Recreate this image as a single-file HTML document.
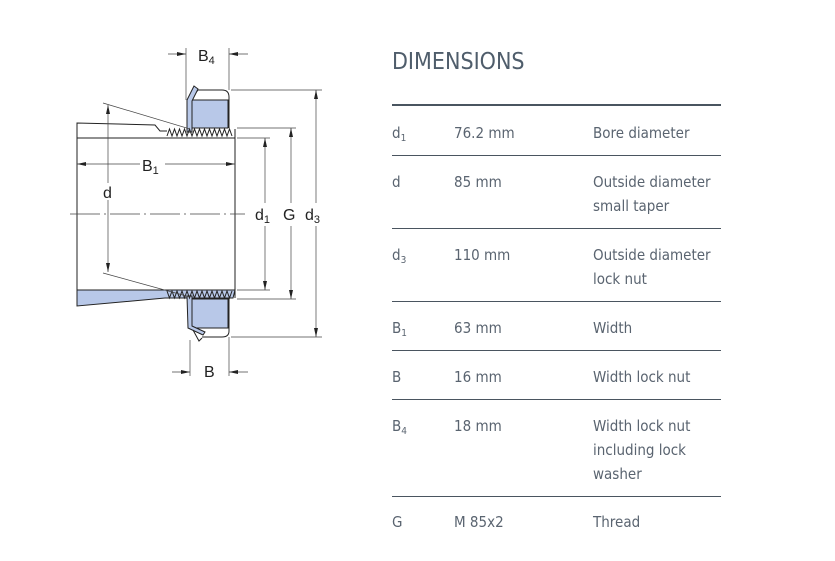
<!DOCTYPE html>
<html><head><meta charset="utf-8"><style>
body{margin:0;background:#fff;width:835px;height:561px;overflow:hidden;position:relative;font-family:"Liberation Sans",sans-serif}
.t{position:absolute;color:#5a6470;font-size:15px;line-height:24px;font-family:"DejaVu Sans Condensed","Liberation Sans",sans-serif;font-weight:300}
.h{position:absolute;left:392px;top:49px;font-size:23px;color:#4f5d6b;font-family:"DejaVu Sans Condensed","Liberation Sans",sans-serif;letter-spacing:0px}
.ln{position:absolute;left:392px;width:329px;height:1px;background:#4a5560}
sub{font-size:10px;vertical-align:-3px;line-height:0}
</style></head><body>
<svg width="835" height="561" style="position:absolute;left:0;top:0" font-family="Liberation Sans, sans-serif">
<g stroke="#222" stroke-width="1" fill="none">
<path d="M77,305 L77,123 L155,125 L160,131 L167,131" />
<line x1="77" y1="138" x2="235" y2="138"/>
<line x1="235" y1="129" x2="235" y2="298"/>
<path d="M77,290 L235,290 L233,298 L165,298 L77,306 Z" fill="#b8c8e8"/>
<path d="M192,100 L228,100 L228,128 L192,128 Z" fill="#b8c8e8"/>
<path d="M192,98 L198,90 L222,90 Q229,90 229,97 L229,128"/>
<path d="M187,100 L194,86 L198,89 L192,101 L192,132 L187,132 Z" fill="#b8c8e8"/>
<path d="M192,299 L228,299 L228,328 L192,328 Z" fill="#b8c8e8"/>
<path d="M229,298 L229,331 Q229,337 222,337 L202,337"/>
<path d="M187,296 L192,296 L192,326 L205,332 L203,335 L188,328 Z" fill="#b8c8e8"/>
<path d="M193,330 L199,341 L202,338"/>
<polyline points="167,136 169.5,129 172,136 174.5,129 177,136 179.5,129 182,136 184.5,129 187,136 189.5,129 192,136 194.5,129 197,136 199.5,129 202,136 204.5,129 207,136 209.5,129 212,136 214.5,129 217,136 219.5,129 222,136 224.5,129 227,136 229.5,129 232,136"/>
<polyline points="167,291 169.5,298 172,291 174.5,298 177,291 179.5,298 182,291 184.5,298 187,291 189.5,298 192,291 194.5,298 197,291 199.5,298 202,291 204.5,298 207,291 209.5,298 212,291 214.5,298 217,291 219.5,298 222,291 224.5,298 227,291 229.5,298 232,291"/>
</g>
<g stroke="#444" stroke-width="0.7" fill="none">
<line x1="103" y1="103" x2="190" y2="129"/>
<line x1="103" y1="273" x2="190" y2="297"/>
<line x1="70" y1="214" x2="245" y2="214" stroke-dasharray="30,4,2,4"/>
<line x1="108" y1="105" x2="108" y2="183"/><line x1="108" y1="200" x2="108" y2="272"/>
<line x1="77" y1="164" x2="140" y2="164"/><line x1="165" y1="164" x2="235" y2="164"/>
<line x1="186" y1="48" x2="186" y2="100"/><line x1="229" y1="48" x2="229" y2="90"/>
<line x1="168" y1="54" x2="186" y2="54"/><line x1="229" y1="54" x2="248" y2="54"/>
<line x1="190" y1="340" x2="190" y2="376"/><line x1="229" y1="337" x2="229" y2="376"/>
<line x1="172" y1="372" x2="190" y2="372"/><line x1="229" y1="372" x2="248" y2="372"/>
<line x1="231" y1="90" x2="322" y2="90"/><line x1="231" y1="337" x2="322" y2="337"/>
<line x1="237" y1="128" x2="296" y2="128"/><line x1="237" y1="299" x2="296" y2="299"/>
<line x1="237" y1="138" x2="270" y2="138"/><line x1="237" y1="290" x2="270" y2="290"/>
<line x1="316" y1="90" x2="316" y2="203"/><line x1="316" y1="226" x2="316" y2="337"/>
<line x1="291" y1="128" x2="291" y2="203"/><line x1="291" y1="226" x2="291" y2="299"/>
<line x1="265" y1="138" x2="265" y2="203"/><line x1="265" y1="226" x2="265" y2="290"/>
</g>
<g fill="#222">
<path d="M108,105 l-2,9 h4z"/><path d="M108,272 l-2,-9 h4z"/>
<path d="M77,164 l9,-2 v4z"/><path d="M235,164 l-9,-2 v4z"/>
<path d="M186,54 l-9,-2 v4z"/><path d="M229,54 l9,-2 v4z"/>
<path d="M190,372 l-9,-2 v4z"/><path d="M229,372 l9,-2 v4z"/>
<path d="M316,90 l-2,9 h4z"/><path d="M316,337 l-2,-9 h4z"/>
<path d="M291,128 l-2,9 h4z"/><path d="M291,299 l-2,-9 h4z"/>
<path d="M265,138 l-2,9 h4z"/><path d="M265,290 l-2,-9 h4z"/>
</g>
<g font-size="16" fill="#222">
<text x="198" y="61">B<tspan font-size="11" dy="3">4</tspan></text>
<text x="142" y="171">B<tspan font-size="11" dy="3">1</tspan></text>
<text x="103" y="198">d</text>
<text x="255" y="220">d<tspan font-size="11" dy="3">1</tspan></text>
<text x="283" y="220">G</text>
<text x="305" y="220">d<tspan font-size="11" dy="3">3</tspan></text>
<text x="204" y="377">B</text>
</g>
</svg>
<div class="h">DIMENSIONS</div>
<div class="ln" style="top:104px;height:2px"></div>
<div class="t" style="left:392px;top:121px">d<sub>1</sub></div><div class="t" style="left:454px;top:121px">76.2 mm</div><div class="t" style="left:593px;top:121px">Bore diameter</div>
<div class="ln" style="top:155px"></div>
<div class="t" style="left:392px;top:170px">d</div><div class="t" style="left:454px;top:170px">85 mm</div><div class="t" style="left:593px;top:170px">Outside diameter<br>small taper</div>
<div class="ln" style="top:228px"></div>
<div class="t" style="left:392px;top:243px">d<sub>3</sub></div><div class="t" style="left:454px;top:243px">110 mm</div><div class="t" style="left:593px;top:243px">Outside diameter<br>lock nut</div>
<div class="ln" style="top:301px"></div>
<div class="t" style="left:392px;top:316px">B<sub>1</sub></div><div class="t" style="left:454px;top:316px">63 mm</div><div class="t" style="left:593px;top:316px">Width</div>
<div class="ln" style="top:350px"></div>
<div class="t" style="left:392px;top:365px">B</div><div class="t" style="left:454px;top:365px">16 mm</div><div class="t" style="left:593px;top:365px">Width lock nut</div>
<div class="ln" style="top:399px"></div>
<div class="t" style="left:392px;top:414px">B<sub>4</sub></div><div class="t" style="left:454px;top:414px">18 mm</div><div class="t" style="left:593px;top:414px">Width lock nut<br>including lock<br>washer</div>
<div class="ln" style="top:496px"></div>
<div class="t" style="left:392px;top:510px">G</div><div class="t" style="left:454px;top:510px">M 85x2</div><div class="t" style="left:593px;top:510px">Thread</div>
</body></html>
